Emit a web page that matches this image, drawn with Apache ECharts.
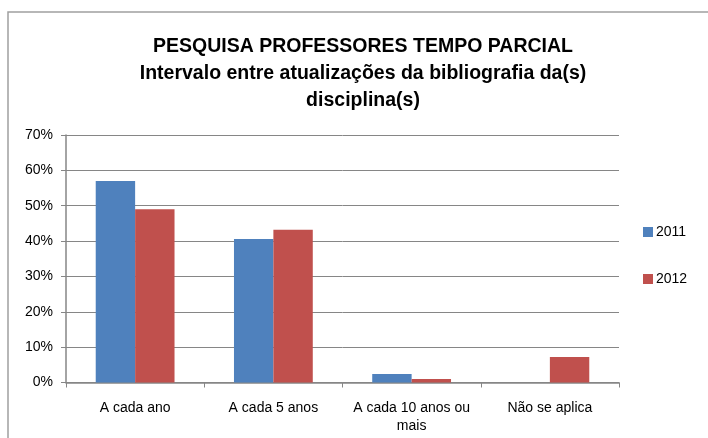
<!DOCTYPE html>
<html>
<head>
<meta charset="utf-8">
<script src="https://cdn.jsdelivr.net/npm/echarts@6/dist/echarts.min.js"></script>
<style>
html,body{margin:0;padding:0;background:#fff;}
#c{width:708px;height:438px;}
</style>
</head>
<body>
<div id="c"></div>
<script>
var titleLines = ['PESQUISA PROFESSORES TEMPO PARCIAL', 'Intervalo entre atualizações da bibliografia da(s)', 'disciplina(s)'];
var categories = ['A cada ano', 'A cada 5 anos', 'A cada 10 anos ou\nmais', 'Não se aplica'];
var seriesNames = ['2011', '2012'];
var values2011 = [57, 40.6, 2.4, 0];
var values2012 = [49, 43.2, 1, 7.2];
var yTicks = [0, 10, 20, 30, 40, 50, 60, 70];

var font = '"Liberation Sans", Arial, sans-serif';
var chart = echarts.init(document.getElementById('c'));
chart.setOption({
  animation: false,
  graphic: [{
    type: 'rect',
    shape: {x: 8, y: 12, width: 720, height: 440},
    style: {fill: 'none', stroke: '#a0a0a0', lineWidth: 1.5},
    silent: true
  }],
  title: {
    text: titleLines.join('\n'),
    left: 358, top: 28, textAlign: 'center',
    textStyle: {fontFamily: font, fontSize: 19.5, fontWeight: 'bold', color: '#000', lineHeight: 27}
  },
  legend: {
    orient: 'vertical',
    left: 638, top: 220,
    itemWidth: 10, itemHeight: 10, itemGap: 33,
    icon: 'rect',
    textStyle: {fontFamily: font, fontSize: 14, color: '#000', padding: [0,0,0,-2]},
    data: seriesNames
  },
  grid: {left: 66, right: 89, top: 135, bottom: 55.5, containLabel: false},
  xAxis: {
    type: 'category',
    data: categories,
    axisLine: {lineStyle: {color: '#868686', width: 1.5}},
    axisTick: {show: true, length: 5, lineStyle: {color: '#868686'}},
    axisLabel: {fontFamily: font, fontSize: 14, color: '#000', margin: 17, lineHeight: 18, interval: 0}
  },
  yAxis: {
    type: 'value',
    min: 0, max: 70, interval: 10,
    axisLine: {show: true, lineStyle: {color: '#868686', width: 1.5}},
    axisTick: {show: true, length: 5, lineStyle: {color: '#868686'}},
    splitLine: {lineStyle: {color: '#868686', width: 1}},
    axisLabel: {fontFamily: font, fontSize: 14, color: '#000', margin: 13,
      formatter: function(v){ return v + '%'; }}
  },
  series: [
    {name: seriesNames[0], type: 'bar', data: values2011, barGap: '0%', barCategoryGap: '43%',
     itemStyle: {color: '#4f81bd'}},
    {name: seriesNames[1], type: 'bar', data: values2012, barGap: '0%', barCategoryGap: '43%',
     itemStyle: {color: '#c0504d'}}
  ]
});
</script>
</body>
</html>
